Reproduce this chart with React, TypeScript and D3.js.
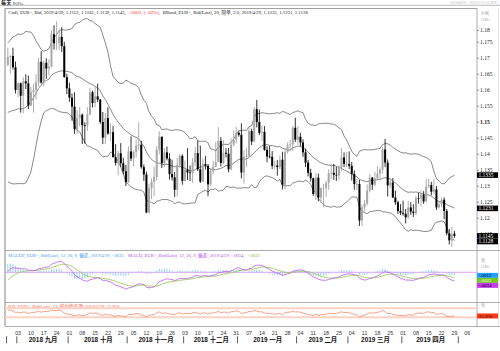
import React, { useMemo } from "react";
import * as d3 from "d3";

// ---------- DATA ----------
// closes before the first visible bar (Jul 2 – Aug 27 2018), used only to warm up the indicators
const warmupCloses = [1.1634, 1.1656, 1.1656, 1.1688, 1.1745, 1.1748, 1.1742, 1.1706, 1.167, 1.1685, 1.1712, 1.166, 1.1641, 1.1643, 1.1719, 1.1691, 1.1685, 1.1729, 1.164, 1.1658, 1.1707, 1.1691,
  1.1658, 1.1603, 1.1566, 1.1552, 1.1601, 1.1609, 1.1525, 1.141, 1.1405, 1.1345, 1.1345, 1.1377, 1.1438, 1.1479, 1.157, 1.1597, 1.1539, 1.1622, 1.168];

const startDate = "2018-08-28";
const endDate = "2019-05-13";

const opens = [1.168, 1.1704, 1.1707, 1.1672,
  1.1601, 1.1622, 1.1583, 1.1628, 1.1622, 1.1552, 1.1595, 1.1601, 1.1625, 1.1689, 1.1624, 1.1686, 1.1668, 1.1674, 1.1775, 1.1747, 1.1748, 1.1767, 1.1738, 1.1641,
  1.1606, 1.1577, 1.1549, 1.1478, 1.1513, 1.1524, 1.1491, 1.149, 1.1524, 1.1594, 1.156, 1.1581, 1.1571, 1.1501, 1.1452, 1.1513, 1.1465, 1.1469, 1.1391, 1.1373, 1.1403, 1.1372, 1.1347,
  1.1313, 1.1409, 1.1387, 1.1407, 1.1427, 1.143, 1.136, 1.1337, 1.1218, 1.1294, 1.1314, 1.1329, 1.1415, 1.1455, 1.1372, 1.1406, 1.1387, 1.1338, 1.1328, 1.1289, 1.1367, 1.1395,
  1.1317, 1.1352, 1.1343, 1.1342, 1.1375, 1.1404, 1.1353, 1.1315, 1.137, 1.1364, 1.1306, 1.1347, 1.1361, 1.1376, 1.1442, 1.1373, 1.1405, 1.1402, 1.1353, 1.143, 1.1445,
  1.1467, 1.1461, 1.1343, 1.1392, 1.1394, 1.1473, 1.144, 1.1541, 1.1501, 1.1467, 1.147, 1.1414, 1.1393, 1.1392, 1.1364, 1.1365, 1.136, 1.1383, 1.1305, 1.1407, 1.1428, 1.1431, 1.1483,
  1.1446, 1.1455, 1.1437, 1.1406, 1.1374, 1.1342, 1.1325, 1.1276, 1.1327, 1.1265, 1.1294, 1.1295, 1.131, 1.1341, 1.1342, 1.1336, 1.1334, 1.136, 1.139, 1.137,
  1.137, 1.1364, 1.1339, 1.1307, 1.1307, 1.1193, 1.1234, 1.1246, 1.1287, 1.1327, 1.1305, 1.1325, 1.134, 1.1352, 1.1415, 1.1374, 1.1303, 1.1312, 1.1265, 1.125, 1.1223,
  1.1217, 1.1214, 1.1203, 1.1234, 1.1221, 1.1216, 1.1263, 1.1262, 1.1274, 1.1253, 1.1299, 1.1304, 1.1283, 1.129, 1.1234, 1.1244, 1.1258, 1.1223, 1.1153, 1.1131, 1.1152];

const highs = [1.1733, 1.171, 1.1733, 1.169,
  1.1625, 1.1624, 1.1641, 1.165, 1.1646, 1.1611, 1.162, 1.165, 1.1701, 1.1722, 1.1692, 1.17, 1.1697, 1.1788, 1.1803, 1.1815, 1.179, 1.1797, 1.1752, 1.1652,
  1.1624, 1.159, 1.1594, 1.1539, 1.1548, 1.1527, 1.15, 1.1547, 1.1608, 1.1599, 1.161, 1.1621, 1.1573, 1.1532, 1.1529, 1.1547, 1.1497, 1.1488, 1.1432, 1.1411, 1.1435, 1.1389, 1.1367,
  1.1425, 1.1456, 1.1413, 1.1445, 1.15, 1.1442, 1.1368, 1.1346, 1.1308, 1.1325, 1.1361, 1.1426, 1.1472, 1.1455, 1.1419, 1.1424, 1.1403, 1.1383, 1.1345, 1.1389, 1.1402, 1.14,
  1.138, 1.1419, 1.1365, 1.1389, 1.1424, 1.1442, 1.1427, 1.1387, 1.1395, 1.137, 1.1357, 1.138, 1.1439, 1.1486, 1.1454, 1.1444, 1.1419, 1.142, 1.145, 1.1475, 1.1486,
  1.1472, 1.1497, 1.1412, 1.142, 1.1484, 1.148, 1.1548, 1.157, 1.154, 1.149, 1.1488, 1.1425, 1.1426, 1.141, 1.138, 1.1382, 1.1396, 1.1408, 1.1416, 1.1437, 1.1445, 1.1489, 1.1514,
  1.1488, 1.1467, 1.1447, 1.1418, 1.1382, 1.1355, 1.1327, 1.1341, 1.134, 1.1296, 1.1308, 1.1318, 1.1353, 1.1371, 1.137, 1.1361, 1.1366, 1.142, 1.1406, 1.1407,
  1.1409, 1.1376, 1.135, 1.1323, 1.132, 1.1243, 1.1258, 1.1306, 1.1339, 1.1329, 1.1346, 1.1362, 1.1359, 1.1422, 1.1448, 1.1384, 1.1325, 1.1326, 1.1287, 1.1255, 1.1244,
  1.1255, 1.1229, 1.1255, 1.125, 1.1244, 1.127, 1.128, 1.1287, 1.1285, 1.1323, 1.1324, 1.1314, 1.1324, 1.1301, 1.1254, 1.1265, 1.1265, 1.1229, 1.1167, 1.1173, 1.1161];

const lows = [1.1675, 1.1652, 1.1665, 1.159,
  1.1579, 1.153, 1.1528, 1.1604, 1.1541, 1.155, 1.153, 1.1571, 1.1612, 1.1621, 1.1612, 1.1636, 1.1646, 1.1672, 1.1727, 1.1726, 1.1726, 1.172, 1.164, 1.1588,
  1.1564, 1.1505, 1.1464, 1.1463, 1.1487, 1.1432, 1.1433, 1.1473, 1.1523, 1.1546, 1.1548, 1.1563, 1.1495, 1.1432, 1.1432, 1.1461, 1.1442, 1.139, 1.1365, 1.1335, 1.1361, 1.1338, 1.1301,
  1.1311, 1.1379, 1.1362, 1.1389, 1.1412, 1.1355, 1.1317, 1.1216, 1.1215, 1.126, 1.127, 1.1318, 1.14, 1.1357, 1.136, 1.1381, 1.1321, 1.1318, 1.1267, 1.1268, 1.1358, 1.1305,
  1.1315, 1.132, 1.1316, 1.131, 1.1363, 1.1348, 1.131, 1.1313, 1.1352, 1.1269, 1.1302, 1.1338, 1.1361, 1.1376, 1.1362, 1.1369, 1.139, 1.1344, 1.1351, 1.1425, 1.1434,
  1.1455, 1.1325, 1.1309, 1.136, 1.1393, 1.1429, 1.1437, 1.1484, 1.146, 1.1442, 1.1411, 1.1375, 1.1387, 1.1354, 1.1353, 1.1333, 1.1354, 1.129, 1.1291, 1.1402, 1.141, 1.141, 1.1438,
  1.143, 1.1425, 1.1392, 1.136, 1.1331, 1.1315, 1.127, 1.1257, 1.1253, 1.1249, 1.1234, 1.1267, 1.1289, 1.1322, 1.132, 1.1317, 1.132, 1.1347, 1.136, 1.136,
  1.1354, 1.1318, 1.1289, 1.1288, 1.1176, 1.1176, 1.1221, 1.124, 1.1281, 1.1289, 1.1299, 1.132, 1.1324, 1.1339, 1.136, 1.1268, 1.1295, 1.1263, 1.1242, 1.1213, 1.121,
  1.1208, 1.1184, 1.1198, 1.1211, 1.1204, 1.121, 1.1246, 1.1236, 1.1245, 1.125, 1.1295, 1.1272, 1.1275, 1.1226, 1.123, 1.1235, 1.1197, 1.1147, 1.1118, 1.1111, 1.1139];

const closes = [1.1704, 1.1707, 1.1672, 1.1601,
  1.1622, 1.1583, 1.1628, 1.1622, 1.1552, 1.1595, 1.1601, 1.1625, 1.1689, 1.1624, 1.1686, 1.1668, 1.1674, 1.1775, 1.1747, 1.1748, 1.1767, 1.1738, 1.1641, 1.1606,
  1.1577, 1.1549, 1.1478, 1.1513, 1.1524, 1.1491, 1.149, 1.1524, 1.1594, 1.156, 1.1581, 1.1571, 1.1501, 1.1452, 1.1513, 1.1465, 1.1469, 1.1391, 1.1373, 1.1403, 1.1372, 1.1347, 1.1313,
  1.1409, 1.1387, 1.1407, 1.1427, 1.143, 1.136, 1.1337, 1.1218, 1.1294, 1.1314, 1.1329, 1.1415, 1.1455, 1.1372, 1.1406, 1.1387, 1.1338, 1.1328, 1.1289, 1.1367, 1.1395, 1.1317,
  1.1352, 1.1343, 1.1342, 1.1375, 1.1404, 1.1353, 1.1315, 1.137, 1.1364, 1.1306, 1.1347, 1.1361, 1.1376, 1.1442, 1.1373, 1.1405, 1.1402, 1.1353, 1.143, 1.1445, 1.1467,
  1.1461, 1.1343, 1.1392, 1.1394, 1.1473, 1.144, 1.1541, 1.1501, 1.1467, 1.147, 1.1414, 1.1393, 1.1392, 1.1364, 1.1365, 1.136, 1.1383, 1.1305, 1.1407, 1.1428, 1.1431, 1.1483, 1.1446,
  1.1455, 1.1437, 1.1406, 1.1374, 1.1342, 1.1325, 1.1276, 1.1327, 1.1265, 1.1294, 1.1295, 1.131, 1.1341, 1.1342, 1.1336, 1.1334, 1.136, 1.139, 1.137, 1.137,
  1.1364, 1.1339, 1.1307, 1.1307, 1.1193, 1.1234, 1.1246, 1.1287, 1.1327, 1.1305, 1.1325, 1.134, 1.1352, 1.1415, 1.1374, 1.1303, 1.1312, 1.1265, 1.125, 1.1223, 1.1217,
  1.1214, 1.1203, 1.1234, 1.1221, 1.1216, 1.1263, 1.1262, 1.1274, 1.1253, 1.1299, 1.1304, 1.1283, 1.129, 1.1234, 1.1244, 1.1258, 1.1223, 1.1153, 1.1131, 1.115, 1.1145];

const priceTicks = [1.115, 1.12, 1.125, 1.13, 1.135, 1.14, 1.145, 1.15, 1.155, 1.16, 1.165, 1.17, 1.175, 1.18];
const monthLabels = ["2018 九月", "2018 十月", "2018 十一月", "2018 十二月", "2019 一月", "2019 二月", "2019 三月", "2019 四月"];

const mainLabelValues = [1.1335, 1.1231, 1.1145, 1.1128];
const mainLabelTexts = ["1.1335", "1.1231", "1.1145", "1.1128"];
const macdLabelValues = [-0.0012, -0.0022, -0.0034];
const macdLabelTexts = ["-.0012", "-.0022", "-.0034"];
const macdLabelColors = ["#1ea0ff", "#70c81e", "#c63cf0"];
const macdLabelTextColors = ["#000", "#fff", "#000"];
const rsiLabelValue = 35.95;
const rsiLabelText = "35.950";

// legend segments: text, colour, start x, width
const legendMain = [
  { t: "Cndl, EUR=, Bid, 2019/4/29, 1.1152, 1.1161, 1.1139, 1.1145,", c: "#222", x: 8.3, w: 117.5 },
  { t: "-.0003, (-.03%),", c: "#ff2a2a", x: 128.5, w: 31.5 },
  { t: "BBand, EUR=, Bid(Last), 20, 简单, 2.0, 2019/4/29, 1.1335, 1.1231, 1.1128", c: "#222", x: 162.8, w: 145 },
];
const legendMacd = [
  { t: "MACDF, EUR=, Bid(Last), 12, 26, 9, 偏差, 2019/4/29, -.0012,", c: "#3a9cf0", x: 8.3, w: 116.5 },
  { t: "MACD, EUR=, Bid(Last), 12, 26, 9, 偏差, 2019/4/29, -.0034,", c: "#b050e8", x: 128, w: 116.5 },
  { t: "-.0022", c: "#78c032", x: 247.8, w: 12.2 },
];
const legendRsi = "RSI, EUR=, Bid(Last), 14, 威尔德平滑, 2019/4/29, 35.950";

// ---------- LAYOUT ----------
const W = 500, H = 351;
const PL = 5, PR = 477;
const MAIN_TOP = 8.5, MAIN_BOT = 250.5, MACD_BOT = 302.5, RSI_BOT = 326.5;
const SERIF = "'Liberation Serif', 'Noto Sans CJK SC', serif";
const SANS = "'Liberation Sans', 'Noto Sans CJK SC', sans-serif";

function ema(arr: number[], n: number) {
  const a = 2 / (n + 1);
  const out: number[] = [];
  let e = arr[0];
  arr.forEach((v, i) => {
    e = i === 0 ? v : a * v + (1 - a) * e;
    out.push(e);
  });
  return out;
}

function stack(ys: number[], h: number) {
  const idx = ys.map((_, i) => i).sort((a, b) => ys[a] - ys[b]);
  const out = ys.slice();
  let prev = -Infinity;
  idx.forEach((i) => {
    const v = Math.max(ys[i], prev + h);
    out[i] = v;
    prev = v;
  });
  return out;
}

export default function App() {
  const calc = useMemo(() => {
    const all = [...warmupCloses, ...closes];
    const W0 = warmupCloses.length;
    const bb = closes.map((_, i) => {
      const k = i + W0;
      const win = all.slice(k - 19, k + 1);
      const m = d3.mean(win) as number;
      const sd = Math.sqrt(d3.mean(win.map((v) => (v - m) ** 2)) as number);
      return { m, u: m + 2 * sd, l: m - 2 * sd };
    });
    const e12 = ema(all, 12), e26 = ema(all, 26);
    const macdAll = all.map((_, i) => e12[i] - e26[i]);
    const sigAll = ema(macdAll, 9);
    const macd = macdAll.slice(W0);
    const sig = sigAll.slice(W0);
    const hist = macd.map((v, i) => v - sig[i]);
    const rsiAll: number[] = new Array(all.length).fill(NaN);
    let ag = 0, al = 0;
    for (let i = 1; i <= 14; i++) {
      const d = all[i] - all[i - 1];
      if (d > 0) ag += d; else al -= d;
    }
    ag /= 14; al /= 14;
    rsiAll[14] = 100 - 100 / (1 + ag / al);
    for (let i = 15; i < all.length; i++) {
      const d = all[i] - all[i - 1];
      ag = (ag * 13 + Math.max(d, 0)) / 14;
      al = (al * 13 + Math.max(-d, 0)) / 14;
      rsiAll[i] = 100 - 100 / (1 + ag / al);
    }
    const rsi = rsiAll.slice(W0);
    const parse = d3.timeParse("%Y-%m-%d");
    const days = d3.timeDay
      .range(parse(startDate)!, d3.timeDay.offset(parse(endDate)!, 1))
      .filter((d) => d.getDay() !== 0 && d.getDay() !== 6);
    return { bb, macd, sig, hist, rsi, days };
  }, []);

  const { bb, macd, sig, hist, rsi, days } = calc;

  const x = d3.scaleLinear().domain([-1.1, 182.8]).range([PL, PR]);
  const step = x(1) - x(0);
  const y = d3.scaleLinear().domain([1.12, 1.18]).range([218.3, 26.3]);
  const ym = d3.scaleLinear().domain([0, 0.005]).range([272.3, 259.5]);
  const yr = d3.scaleLinear().domain([30, 70]).range([317.3, 308.3]);

  const lineMain = d3.line<number>().x((_, i) => x(i)).y((v) => y(v));
  const lineMacd = d3.line<number>().x((_, i) => x(i)).y((v) => ym(v));
  const lineRsi = d3.line<number>().x((_, i) => x(i)).y((v) => yr(v));

  // time axis
  const fmtDay = d3.timeFormat("%d");
  const weekTicks = days
    .map((d, i) => ({ d, i }))
    .filter((o) => o.d.getDay() === 1 && x(o.i) < PR - 6);
  const monthBounds: { i: number; m: number }[] = [];
  days.forEach((d, i) => {
    if (i === 0 || d.getMonth() !== days[i - 1].getMonth()) monthBounds.push({ i, m: d.getMonth() });
  });
  const sepX = monthBounds.map((b) => x(b.i) - step / 2);
  const monthLabelPos = monthBounds.slice(1, monthBounds.length - 1).map((b, k) => ({
    text: monthLabels[k],
    cx: (x(b.i) + sepX[k + 2]) / 2,
  }));

  const mainLabelY = stack(mainLabelValues.map((v) => y(v)), 5.6);
  const macdLabelY = stack(macdLabelValues.map((v) => ym(v)), 5);

  return (
    <svg width={W} height={H} style={{ position: "fixed", left: 0, top: 0, background: "#fff" }}>
      <defs>
        <clipPath id="cMain"><rect x={PL} y={MAIN_TOP} width={PR - PL} height={MAIN_BOT - MAIN_TOP} /></clipPath>
        <clipPath id="cMacd"><rect x={PL} y={MAIN_BOT} width={PR - PL} height={MACD_BOT - MAIN_BOT} /></clipPath>
        <clipPath id="cRsi"><rect x={PL} y={MACD_BOT} width={PR - PL} height={RSI_BOT - MACD_BOT} /></clipPath>
      </defs>
      <rect x={0} y={0} width={W} height={H} fill="#fff" />

      {/* header */}
      <text x={1} y={4.6} fontSize={5.2} fontWeight="bold" fontFamily={SANS} fill="#111">每天<tspan fontSize={3.8} fontWeight="normal" fill="#555" dx={1.5}>EUR=</tspan></text>
      <text x={498} y={3.6} fontSize={4} textAnchor="end" fontFamily={SERIF} fill="#bbb">20180828 - 2019/5/13 (GMT)</text>
      <line x1={0} x2={W} y1={5.3} y2={5.3} stroke="#aaa" strokeWidth={0.8} />

      {/* frames */}
      <line x1={PL} x2={PR} y1={MAIN_TOP} y2={MAIN_TOP} stroke="#888" strokeWidth={0.8} />
      <line x1={PL} x2={PL} y1={MAIN_TOP} y2={RSI_BOT} stroke="#666" strokeWidth={0.8} />
      <line x1={PR} x2={PR} y1={MAIN_TOP} y2={RSI_BOT} stroke="#999" strokeWidth={0.8} />
      <line x1={498.5} x2={498.5} y1={MAIN_TOP} y2={RSI_BOT} stroke="#ddd" strokeWidth={0.8} />
      <line x1={PL} x2={W} y1={MAIN_BOT} y2={MAIN_BOT} stroke="#999" strokeWidth={0.8} />
      <line x1={PL} x2={W} y1={MACD_BOT} y2={MACD_BOT} stroke="#999" strokeWidth={0.8} />
      <line x1={PL} x2={W} y1={RSI_BOT} y2={RSI_BOT} stroke="#999" strokeWidth={0.8} />

      {/* main legend */}
      {legendMain.map((s) => (
        <text key={s.x} x={s.x} y={14.3} fontSize={4.75} fontFamily={SERIF} fill={s.c} textLength={s.w} lengthAdjust="spacingAndGlyphs">{s.t}</text>
      ))}

      {/* main panel */}
      <g clipPath="url(#cMain)">
        <path d={lineMain(bb.map((b) => b.u))!} fill="none" stroke="#555" strokeWidth={0.7} />
        <path d={lineMain(bb.map((b) => b.m))!} fill="none" stroke="#555" strokeWidth={0.7} />
        <path d={lineMain(bb.map((b) => b.l))!} fill="none" stroke="#555" strokeWidth={0.7} />
        {closes.map((c, i) => {
          const o = opens[i];
          const up = c >= o;
          const cx = x(i);
          const top = y(Math.max(o, c));
          const bh = Math.max(0.7, y(Math.min(o, c)) - top);
          const col = up ? "#a8a8a8" : "#000";
          return (
            <g key={i}>
              <line x1={cx} x2={cx} y1={y(highs[i])} y2={y(lows[i])} stroke={up ? "#999" : "#000"} strokeWidth={0.8} />
              <rect x={cx - 1} y={top} width={2} height={bh} fill={col} />
            </g>
          );
        })}
      </g>

      {/* price axis */}
      {priceTicks.map((t) => {
        const ty = Math.max(30.5, y(t));
        return (
          <g key={t}>
            <line x1={PR} x2={PR + 2} y1={ty} y2={ty} stroke="#555" strokeWidth={0.6} />
            <text x={PR + 3} y={ty} dy="0.34em" fontSize={5.6} fontFamily={SERIF} fill="#222" fontWeight={t === 1.15 ? "bold" : "normal"}>{d3.format(".3~f")(t)}</text>
          </g>
        );
      })}
      <text x={481} y={15} fontSize={4} fontFamily={SANS} fill="#aaa">价格</text>
      <text x={481} y={21} fontSize={4} fontFamily={SANS} fill="#aaa">USD</text>
      {mainLabelValues.map((v, k) => (
        <g key={k}>
          <rect x={PR} y={mainLabelY[k] - 2.8} width={21} height={5.6} fill="#000" />
          <text x={PR + 1.5} y={mainLabelY[k]} dy="0.34em" fontSize={5.4} fontFamily={SERIF} fill="#fff">{mainLabelTexts[k]}</text>
        </g>
      ))}

      {/* MACD panel */}
      {legendMacd.map((s) => (
        <text key={s.x} x={s.x} y={257.4} fontSize={4.65} fontFamily={SERIF} fill={s.c} textLength={s.w} lengthAdjust="spacingAndGlyphs">{s.t}</text>
      ))}
      <g clipPath="url(#cMacd)">
        <line x1={PL} x2={PR} y1={ym(0)} y2={ym(0)} stroke="#d98cf5" strokeWidth={0.8} />
        {hist.map((h, i) => (
          <line key={i} x1={x(i)} x2={x(i)} y1={ym(0)} y2={ym(h)} stroke="#8cc8f8" strokeWidth={0.9} />
        ))}
        <path d={lineMacd(sig)!} fill="none" stroke="#9ad05a" strokeWidth={0.9} />
        <path d={lineMacd(macd)!} fill="none" stroke="#c468f0" strokeWidth={0.9} />
      </g>
      <text x={481} y={262} fontSize={4} fontFamily={SANS} fill="#aaa">值</text>
      <text x={481} y={268} fontSize={4} fontFamily={SANS} fill="#aaa">USD</text>
      {macdLabelValues.map((v, k) => (
        <g key={k}>
          <rect x={PR} y={macdLabelY[k] - 2.5} width={21} height={5} fill={macdLabelColors[k]} />
          <text x={PR + 1.5} y={macdLabelY[k]} dy="0.34em" fontSize={5} fontFamily={SERIF} fill={macdLabelTextColors[k]}>{macdLabelTexts[k]}</text>
        </g>
      ))}

      {/* RSI panel */}
      <text x={8.3} y={308.4} fontSize={4.8} fontFamily={SERIF} fill="#ff5a3c" textLength={111} lengthAdjust="spacingAndGlyphs">{legendRsi}</text>
      <g clipPath="url(#cRsi)">
        <line x1={PL} x2={PR} y1={yr(70)} y2={yr(70)} stroke="#ffd2c4" strokeWidth={2} />
        <line x1={PL} x2={PR} y1={yr(30)} y2={yr(30)} stroke="#ffd2c4" strokeWidth={2} />
        <path d={lineRsi(rsi)!} fill="none" stroke="#f2896a" strokeWidth={0.8} />
      </g>
      <text x={481} y={306.5} fontSize={4} fontFamily={SANS} fill="#aaa">值</text>
      <g>
        <rect x={PR} y={yr(rsiLabelValue) - 2.5} width={21} height={5} fill="#ff3a12" />
        <text x={PR + 1.5} y={yr(rsiLabelValue)} dy="0.34em" fontSize={5} fontFamily={SERIF} fill="#222">{rsiLabelText}</text>
      </g>

      {/* time axis */}
      {weekTicks.map((o) => (
        <text key={o.i} x={x(o.i)} y={334.8} fontSize={5.3} textAnchor="middle" fontFamily={SANS} fill="#333">{fmtDay(o.d)}</text>
      ))}
      {sepX.map((sx, k) => (
        <line key={k} x1={sx} x2={sx} y1={336.3} y2={343.3} stroke="#333" strokeWidth={0.8} />
      ))}
      {monthLabelPos.map((m) => (
        <text key={m.text} x={m.cx} y={341.8} fontSize={6.4} fontWeight="bold" textAnchor="middle" fontFamily={SANS} fill="#111">{m.text}</text>
      ))}
    </svg>
  );
}
